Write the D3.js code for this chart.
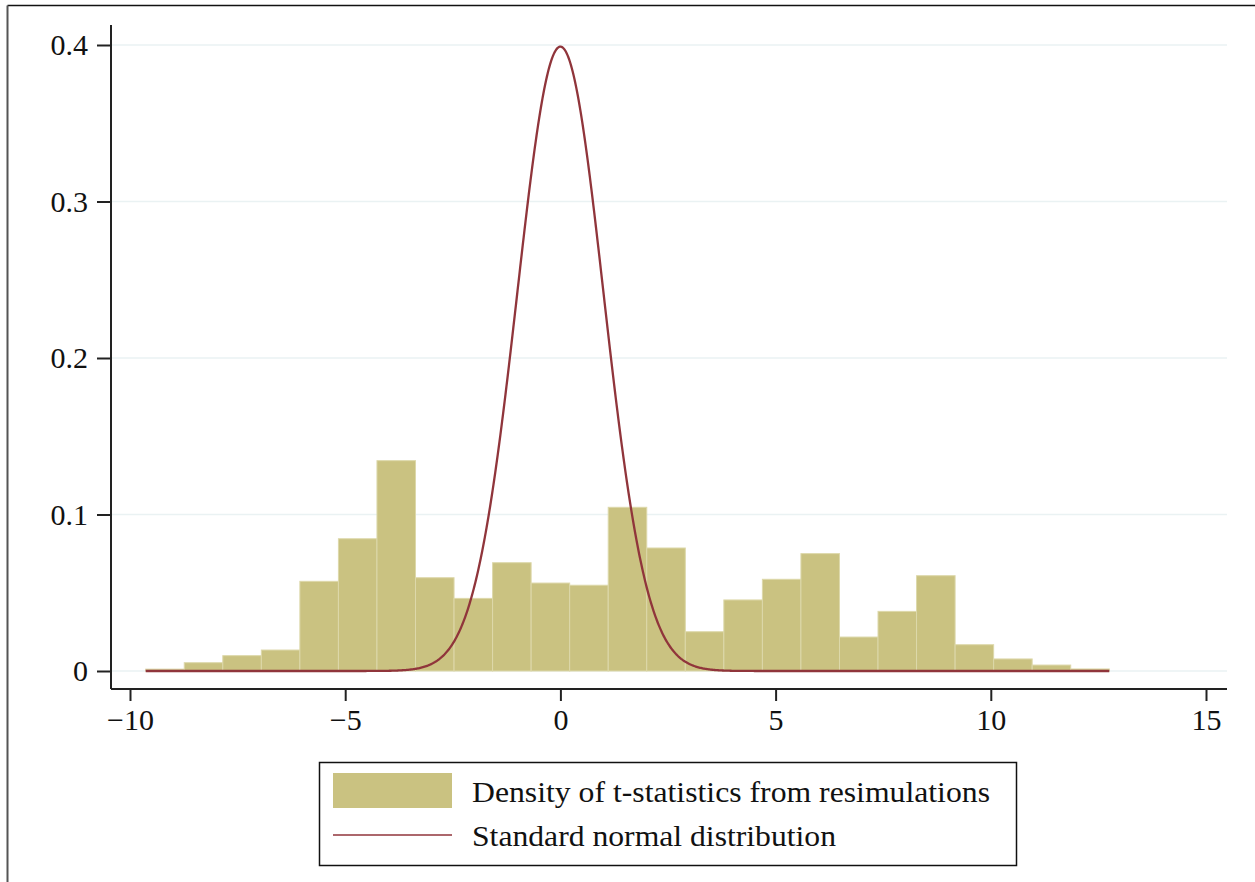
<html>
<head>
<script src="https://d3js.org/d3.v7.min.js"></script>
<style type="text/css">
    body { margin: 0; background: #fff; }
    svg text { font-family: "Liberation Serif", "DejaVu Serif", serif; fill: #111; }
</style>
</head>
<body>
<svg id="chart" width="1255" height="882"></svg>
<script type="text/javascript">

// histogram: 25 equal bins of t-statistics, densities
const binStart = -9.635;
const binWidth = 0.8955;
const densities = [
    0.0012, 0.0053, 0.0098, 0.0134, 0.0573, 0.0845, 0.1344, 0.0596, 0.0464, 0.0692,
    0.0562, 0.0548, 0.1046, 0.0786, 0.0251, 0.0454, 0.0586, 0.0750, 0.0217, 0.0381,
    0.0609, 0.0168, 0.0077, 0.0038, 0.0013
];

// reference curve: standard normal
const normMean = 0;
const normSd = 1;

const xTicks = [-10, -5, 0, 5, 10, 15];
const yTicks = [0, 0.1, 0.2, 0.3, 0.4];
const yTickLabels = ["0", "0.1", "0.2", "0.3", "0.4"];

const legendLabels = ["Density of t-statistics from resimulations", "Standard normal distribution"];

const barFill = "#cac281";
const barEdge = "#ddd8aa";
const lineColor = "#90353b";
const gridColor = "#eaf2f3";

const svg = d3.select("#chart");

// outer frame (only top and left edges are in the picture)
svg.append("line").attr("x1", 7.5).attr("x2", 1255).attr("y1", 5.5).attr("y2", 5.5)
    .attr("stroke", "#111").attr("stroke-width", 1.5);
svg.append("line").attr("x1", 7.5).attr("x2", 7.5).attr("y1", 5.5).attr("y2", 882)
    .attr("stroke", "#555").attr("stroke-width", 2);

const x = d3.scaleLinear().domain([-10, 15]).range([130, 1206]);
const y = d3.scaleLinear().domain([0, 0.4]).range([671, 45]);

const plotLeft = 111, plotRight = 1227, plotTop = 25, plotBottom = 689;

// gridlines
svg.append("g")
    .selectAll("line")
    .data(yTicks)
    .join("line")
    .attr("x1", plotLeft).attr("x2", plotRight)
    .attr("y1", d => y(d)).attr("y2", d => y(d))
    .attr("stroke", gridColor).attr("stroke-width", 1.5);

// bars
const bins = densities.map((d, i) => ({ x0: binStart + i * binWidth, x1: binStart + (i + 1) * binWidth, d: d }));
svg.append("g")
    .selectAll("rect")
    .data(bins)
    .join("rect")
    .attr("x", b => x(b.x0))
    .attr("width", b => x(b.x1) - x(b.x0))
    .attr("y", b => y(b.d))
    .attr("height", b => y(0) - y(b.d))
    .attr("fill", barFill)
    .attr("stroke", barEdge)
    .attr("stroke-width", 1);

// normal density over the data range
const lo = binStart, hi = binStart + densities.length * binWidth;
const pts = d3.range(lo, hi, 0.02).concat([hi])
    .map(t => [t, Math.exp(-0.5 * ((t - normMean) / normSd) ** 2) / (normSd * Math.sqrt(2 * Math.PI))]);
svg.append("path")
    .datum(pts)
    .attr("fill", "none")
    .attr("stroke", lineColor)
    .attr("stroke-width", 2.3)
    .attr("d", d3.line().x(p => x(p[0])).y(p => y(p[1])));

// axes
const xAxis = svg.append("g")
    .attr("transform", `translate(0,${plotBottom})`)
    .call(d3.axisBottom(x).tickValues(xTicks).tickSize(12).tickPadding(8)
        .tickFormat(d => d < 0 ? "\u2212" + Math.abs(d) : d));
xAxis.select(".domain").attr("d", `M${plotLeft},0H${plotRight}`);

const yAxis = svg.append("g")
    .attr("transform", `translate(${plotLeft},0)`)
    .call(d3.axisLeft(y).tickValues(yTicks).tickSize(14).tickPadding(6)
        .tickFormat((d, i) => yTickLabels[i]));
yAxis.select(".domain").attr("d", `M0,${plotTop}V${plotBottom}`);

svg.selectAll(".domain, .tick line").attr("stroke", "#222").attr("stroke-width", 2);
svg.selectAll(".tick text").attr("font-size", 30).attr("fill", "#111")
    .attr("font-family", "Liberation Serif, serif");
xAxis.selectAll(".tick text").attr("dy", "0.7em");
yAxis.selectAll(".tick text").attr("dx", "-0.1em");

// legend
const lg = svg.append("g");
lg.append("rect").attr("x", 319.5).attr("y", 762.5).attr("width", 697).attr("height", 103)
    .attr("fill", "#fff").attr("stroke", "#111").attr("stroke-width", 1.5);
lg.append("rect").attr("x", 333).attr("y", 773).attr("width", 119).attr("height", 35)
    .attr("fill", barFill);
lg.append("line").attr("x1", 333).attr("x2", 452).attr("y1", 835).attr("y2", 835)
    .attr("stroke", lineColor).attr("stroke-width", 1.5);
const legendWidths = [518, 364];
lg.selectAll("text")
    .data(legendLabels)
    .join("text")
    .attr("x", 472)
    .attr("y", (d, i) => 792 + i * 44)
    .attr("dy", "0.35em")
    .attr("font-size", 29)
    .attr("textLength", (d, i) => legendWidths[i])
    .attr("lengthAdjust", "spacingAndGlyphs")
    .text(d => d);

</script>
</body>
</html>
